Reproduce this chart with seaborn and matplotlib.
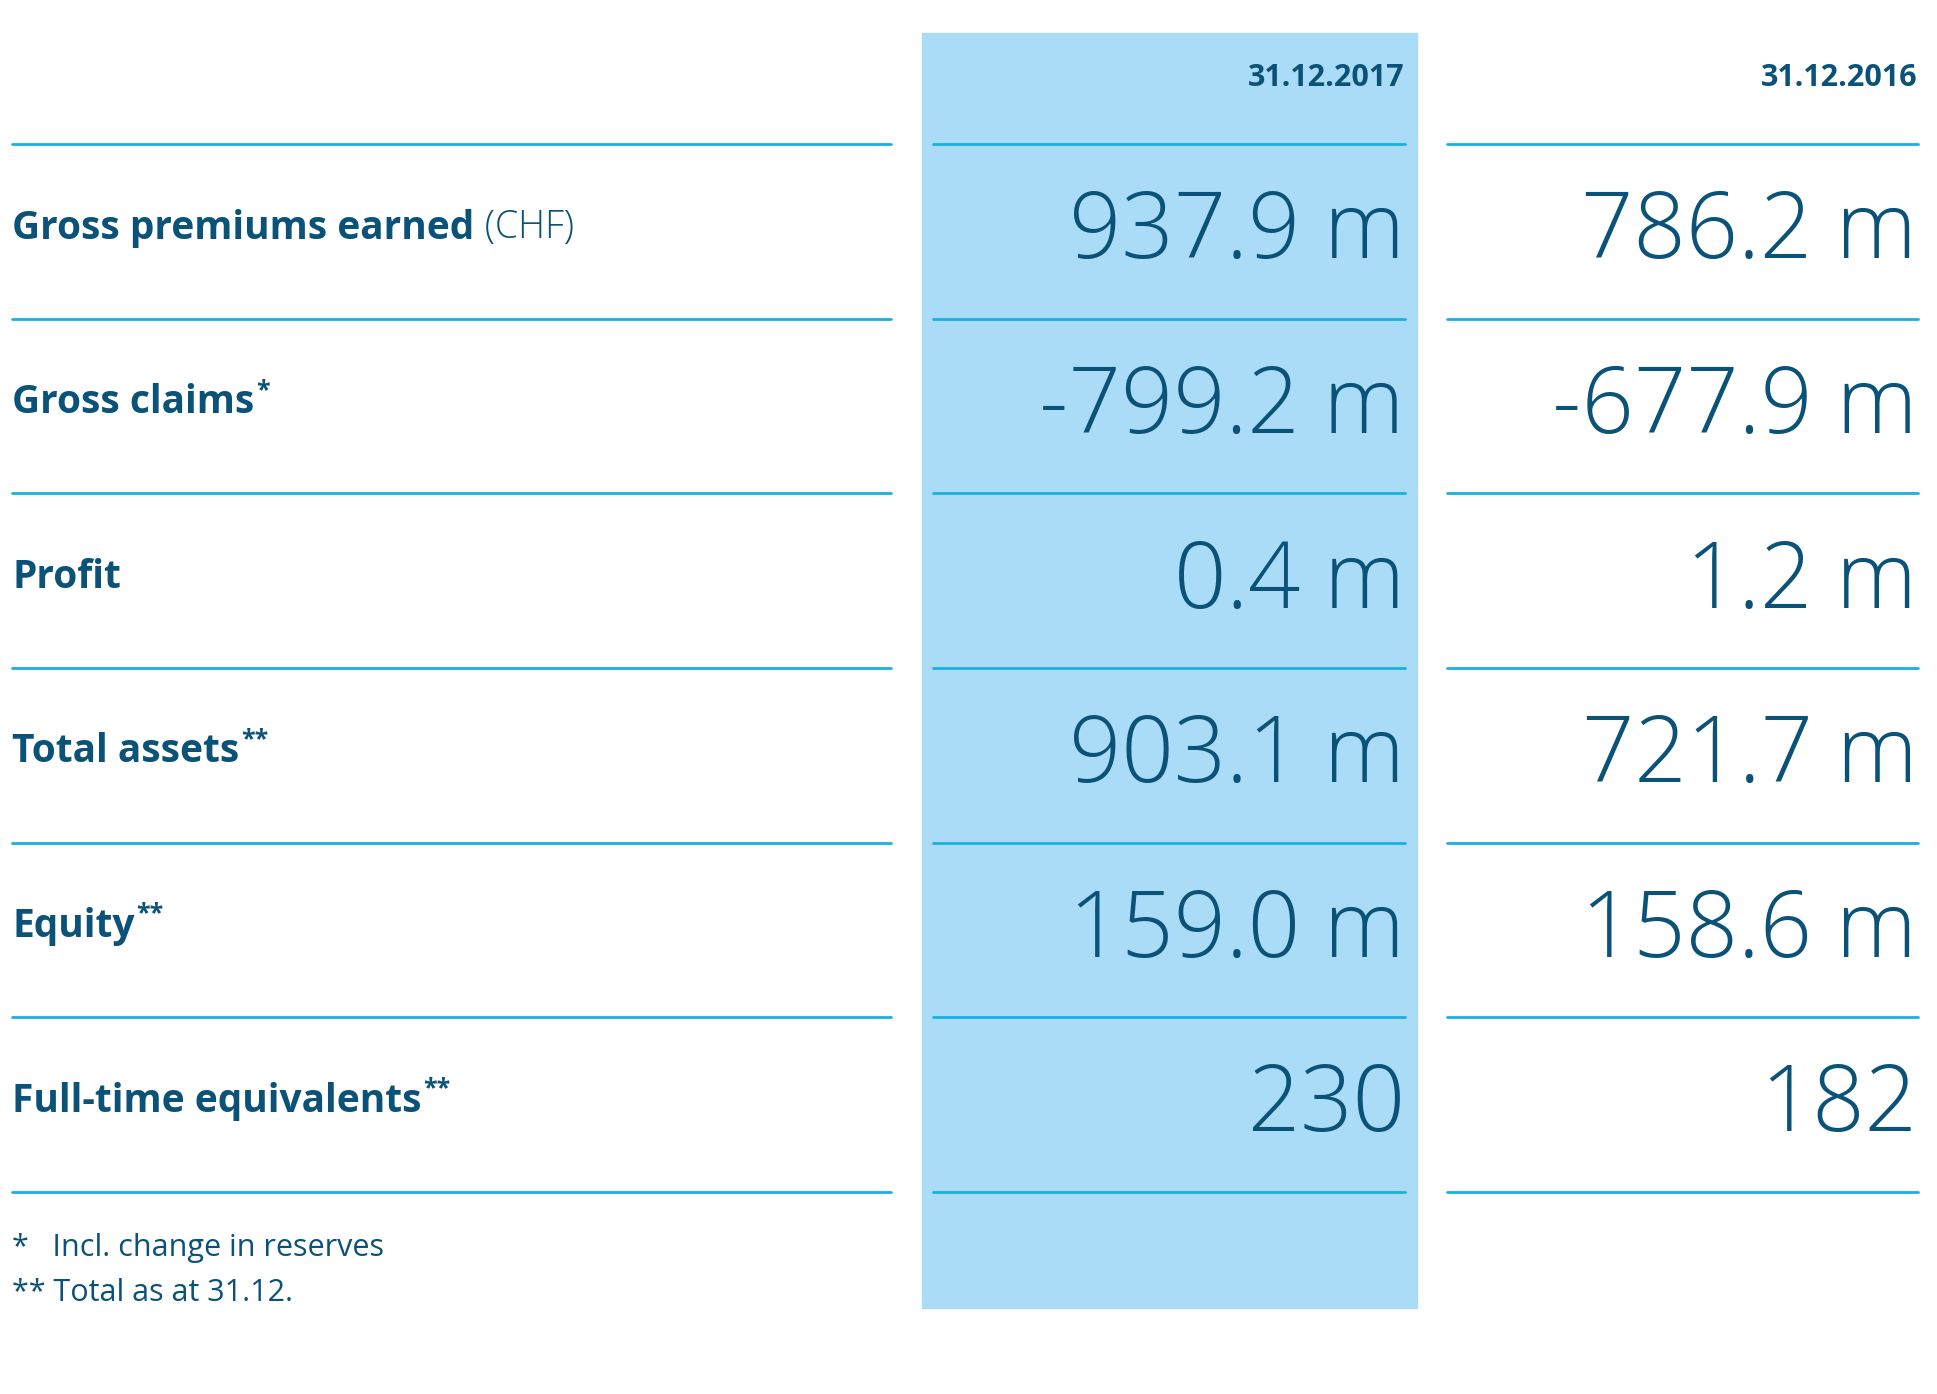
import matplotlib.pyplot as plt
import seaborn as sns
from matplotlib.patches import Rectangle

# data
labels = ["Gross premiums earned", "Gross claims", "Profit", "Total assets",
          "Equity", "Full-time equivalents"]
label_suffix = [" (CHF)", "*", "", "**", "**", "**"]
years = ["31.12.2017", "31.12.2016"]
values_2017 = ["937.9 m", "-799.2 m", "0.4 m", "903.1 m", "159.0 m", "230"]
values_2016 = ["786.2 m", "-677.9 m", "1.2 m", "721.7 m", "158.6 m", "182"]
footnotes = ["*   Incl. change in reserves", "** Total as at 31.12."]

sns.set_theme(style="white")
plt.rcParams["font.family"] = ["Open Sans", "DejaVu Sans"]

DARK = "#0b5278"
LINE = "#1ab0e0"
FILL = "#aadcf7"

fig = plt.figure(figsize=(19.37, 13.94), dpi=100)
ax = fig.add_axes([0, 0, 1, 1])
ax.set_xlim(0, 1568)
ax.set_ylim(1130, 0)
ax.axis("off")

ax.add_patch(Rectangle((746, 27), 401, 1033, color=FILL, zorder=0))

col_right = [1137, 1552]
segments = [(10, 721), (755, 1137), (1171, 1553)]
step = 141.5

for x, yr in zip(col_right, years):
    ax.text(x, 63, yr, ha="right", va="center", fontsize=22,
            fontweight="bold", color=DARK)

for i in range(len(labels) + 1):
    y = 117 + i * step
    for x0, x1 in segments:
        ax.plot([x0, x1], [y, y], color=LINE, lw=2)

for i, (lab, suf) in enumerate(zip(labels, label_suffix)):
    y = 185 + i * step
    t = ax.text(10, y, lab, ha="left", va="center", fontsize=28,
                fontweight="bold", color=DARK)
    fig.canvas.draw()
    bb = t.get_window_extent().transformed(ax.transData.inverted())
    if suf == " (CHF)":
        ax.text(bb.x1, y, suf, ha="left", va="center", fontsize=27,
                fontweight="light", color=DARK)
    elif suf:
        ax.text(bb.x1 + 1, y - 10, suf, ha="left", va="center", fontsize=18,
                fontweight="bold", color=DARK)
    for x, v in zip(col_right, [values_2017[i], values_2016[i]]):
        ax.text(x, y + 5, v, ha="right", va="center", fontsize=66,
                fontweight="light", color=DARK)

for j, f in enumerate(footnotes):
    ax.text(10, 1012 + j * 36, f, ha="left", va="center", fontsize=22,
            color=DARK)

fig.savefig("out.png", dpi=100)
